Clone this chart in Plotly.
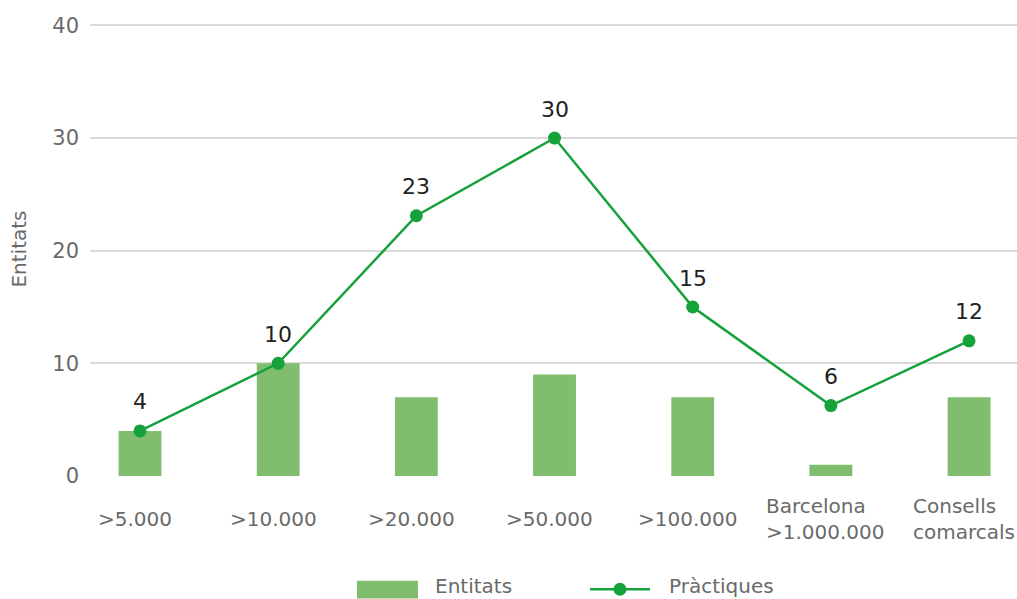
import plotly.graph_objects as go

categories = [">5.000", ">10.000", ">20.000", ">50.000", ">100.000",
              "Barcelona<br>>1.000.000", "Consells<br>comarcals"]
entitats = [4, 10, 7, 9, 7, 1, 7]
practiques = [4, 10, 23.1, 30, 15, 6.25, 12]
practiques_labels = ["4", "10", "23", "30", "15", "6", "12"]
y_ticks = [0, 10, 20, 30, 40]

BAR_COLOR = "#80bd6e"
LINE_COLOR = "#16a23b"
FONT = "DejaVu Sans"
TICK_COLOR = "#6a6a6a"

fig = go.Figure()
fig.add_trace(go.Bar(
    x=categories, y=entitats, name="Entitats",
    marker=dict(color=BAR_COLOR, line=dict(width=0)),
    width=0.31, showlegend=False,
))
fig.add_trace(go.Scatter(
    x=categories, y=practiques, name="Pràctiques",
    mode="lines+markers",
    line=dict(color=LINE_COLOR, width=2.5),
    marker=dict(color=LINE_COLOR, size=13),
    showlegend=False,
))

annotations = []
for c, v, t in zip(categories, practiques, practiques_labels):
    annotations.append(dict(
        x=c, y=v, xref="x", yref="y", text=t, showarrow=False,
        yshift=29, font=dict(family=FONT, size=22, color="#222222"),
    ))
for c in categories:
    annotations.append(dict(
        x=c, y=-0.095, xref="x", yref="paper", text=c, showarrow=False,
        yanchor="middle", align="left", xshift=-5,
        font=dict(family=FONT, size=20, color=TICK_COLOR),
    ))

# custom legend (swatches + labels)
LEG_Y = -0.243
annotations.append(dict(x=0.370, y=LEG_Y, xref="paper", yref="paper", text="Entitats",
                        showarrow=False, xanchor="left", yanchor="middle",
                        font=dict(family=FONT, size=20, color=TICK_COLOR)))
annotations.append(dict(x=0.6224, y=LEG_Y, xref="paper", yref="paper", text="Pràctiques",
                        showarrow=False, xanchor="left", yanchor="middle",
                        font=dict(family=FONT, size=20, color=TICK_COLOR)))
shapes = [
    dict(type="rect", xref="paper", yref="paper", x0=0.288, x1=0.3538,
         y0=-0.270, y1=-0.231, fillcolor=BAR_COLOR, line=dict(width=0)),
    dict(type="line", xref="paper", yref="paper", x0=0.5394, x1=0.6041,
         y0=-0.2495, y1=-0.2495, line=dict(color=LINE_COLOR, width=2.5)),
    dict(type="circle", xref="paper", yref="paper", xsizemode="pixel", ysizemode="pixel",
         xanchor=0.5717, yanchor=-0.2495, x0=-6.5, x1=6.5, y0=-6.5, y1=6.5,
         fillcolor=LINE_COLOR, line=dict(width=0)),
]

fig.update_layout(
    width=1017, height=599,
    margin=dict(l=90, r=0, t=22, b=123),
    paper_bgcolor="white", plot_bgcolor="white",
    font=dict(family=FONT, size=20, color=TICK_COLOR),
    showlegend=False,
    annotations=annotations,
    shapes=shapes,
)
fig.update_xaxes(
    type="category", range=[-0.362, 6.347],
    showticklabels=False, showgrid=False, zeroline=False, showline=False,
)
fig.update_yaxes(
    range=[0, 40.3], tickvals=y_ticks, showgrid=True, gridcolor="#d9d9d9", gridwidth=2,
    zeroline=False, showline=False, ticks="", ticklabelstandoff=10,
    tickfont=dict(family=FONT, size=21, color=TICK_COLOR),
    title=dict(text="Entitats", standoff=20, font=dict(family=FONT, size=20, color=TICK_COLOR)),
)

fig.write_html("out.html", config={"displayModeBar": False},
               post_script="document.body.style.margin='0';document.body.style.overflow='hidden';")
